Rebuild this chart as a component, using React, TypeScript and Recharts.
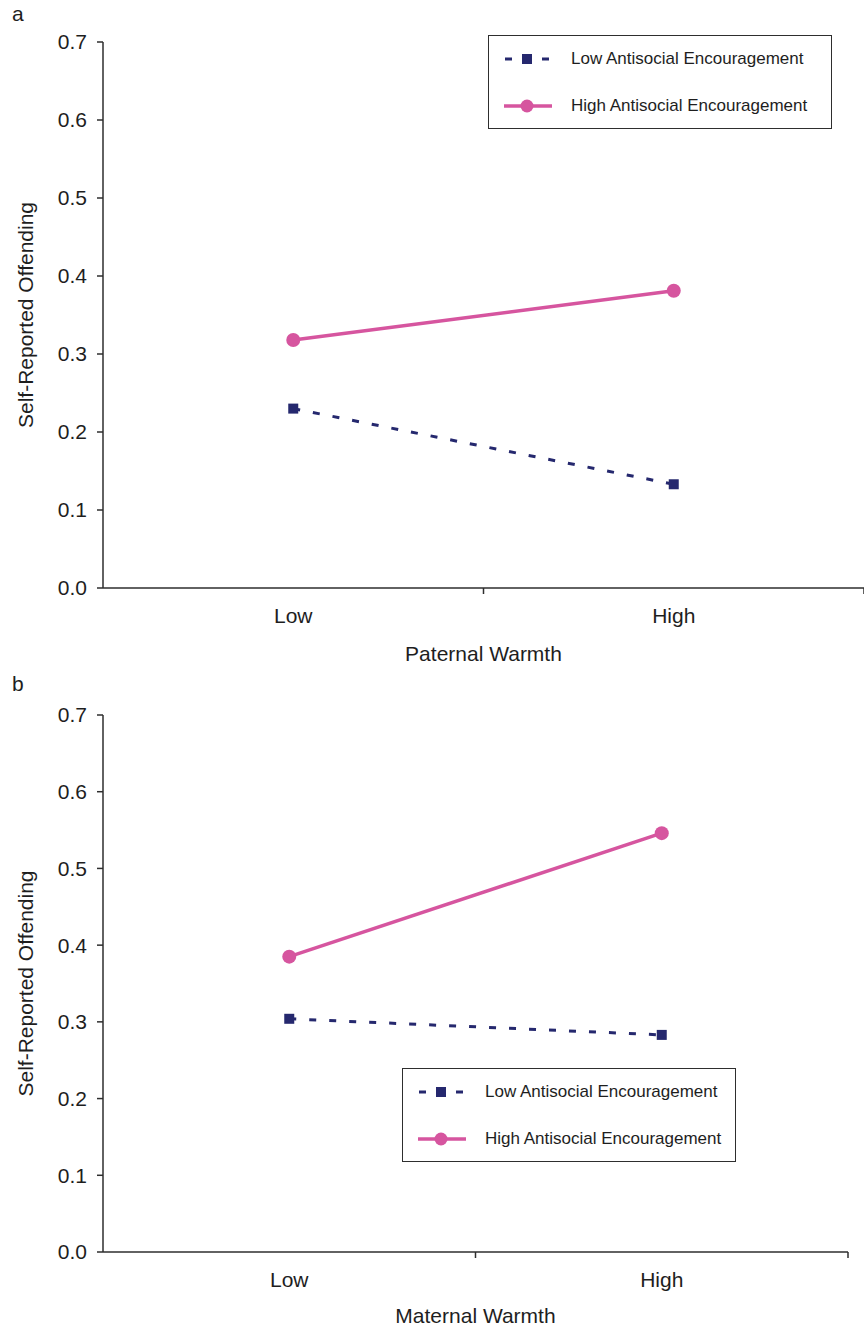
import { LineChart, Line, XAxis, YAxis, Legend } from "recharts"

const CATEGORIES = ["Low", "High"]
const SERIES_NAMES = ["Low Antisocial Encouragement", "High Antisocial Encouragement"]
const Y_TICKS = [0, 0.1, 0.2, 0.3, 0.4, 0.5, 0.6, 0.7]
// half-steps carry the category labels, whole steps the band-edge ticks
const X_TICKS = [0.5, 1, 1.5, 2]

const PATERNAL_LOW = [0.23, 0.133]
const PATERNAL_HIGH = [0.318, 0.381]
const MATERNAL_LOW = [0.304, 0.283]
const MATERNAL_HIGH = [0.385, 0.546]

const NAVY = "#25286e"
const PINK = "#d6559f"
const AXIS = "#2e2e2e"
const TEXT = "#1e1e1e"
const FONT = '"Liberation Sans", Arial, Helvetica, sans-serif'

function buildRows(low: number[], high: number[]) {
  return CATEGORIES.map((cat, i) => ({ x: i + 0.5, cat, low: low[i], high: high[i] }))
}

function CategoryTick(props: any) {
  const { x, y, payload } = props
  const v = payload.value
  if (Number.isInteger(v)) {
    return <line x1={x} x2={x} y1={y} y2={y + 6} stroke={AXIS} strokeWidth={1.5} />
  }
  return (
    <text x={x} y={y + 35} textAnchor="middle" fontSize={21} fill={TEXT} fontFamily={FONT}>
      {CATEGORIES[Math.floor(v)]}
    </text>
  )
}

function SquareDot(props: any) {
  const { cx, cy, index } = props
  return <rect key={`sq-${index}`} x={cx - 5} y={cy - 5} width={10} height={10} fill={NAVY} />
}

function LegendBox({ width }: { width: number }) {
  const row = (top: number, icon: any, label: string) => (
    <div style={{ position: "absolute", left: 0, top: top - 12, height: 24, width: "100%" }}>
      <svg width={52} height={24} style={{ position: "absolute", left: 13, top: 0 }}>
        {icon}
      </svg>
      <span style={{ position: "absolute", left: 82, top: 0, lineHeight: "24px", whiteSpace: "nowrap" }}>{label}</span>
    </div>
  )
  return (
    <div
      style={{
        position: "relative",
        width,
        height: 94,
        border: `1.5px solid ${AXIS}`,
        boxSizing: "border-box",
        background: "#fff",
        fontFamily: FONT,
        fontSize: 17,
        color: TEXT,
      }}
    >
      {row(
        23,
        <g fill={NAVY}>
          <rect x={3} y={10.5} width={7} height={3} />
          <rect x={20} y={7} width={10} height={10} />
          <rect x={40} y={10.5} width={7} height={3} />
        </g>,
        SERIES_NAMES[0]
      )}
      {row(
        70,
        <g>
          <line x1={2} x2={50} y1={12} y2={12} stroke={PINK} strokeWidth={3.5} />
          <circle cx={25} cy={12} r={6.5} fill={PINK} />
        </g>,
        SERIES_NAMES[1]
      )}
    </div>
  )
}

function Panel({
  rows,
  xLabel,
  marginTop,
  marginRight,
  axisHeight,
  labelOffset,
  legendPos,
}: {
  rows: any[]
  xLabel: string
  marginTop: number
  marginRight: number
  axisHeight: number
  labelOffset: number
  legendPos: { top: number; left: number; width: number }
}) {
  return (
    <LineChart width={864} height={665} data={rows} margin={{ top: marginTop, right: marginRight, left: 0, bottom: 0 }}>
      <XAxis
        dataKey="x"
        type="number"
        domain={[0, 2]}
        ticks={X_TICKS}
        interval={0}
        tickSize={0}
        tickMargin={0}
        tickLine={false}
        tick={<CategoryTick />}
        height={axisHeight}
        axisLine={{ stroke: AXIS, strokeWidth: 1.5 }}
        label={{
          value: xLabel,
          position: "insideBottom",
          offset: labelOffset,
          style: { fontSize: 21, fill: TEXT, fontFamily: FONT },
        }}
      />
      <YAxis
        width={103}
        domain={[0, 0.7]}
        ticks={Y_TICKS}
        interval={0}
        tickSize={6}
        tickMargin={10}
        tickFormatter={(v: number) => v.toFixed(1)}
        tick={{ fontSize: 21, fill: TEXT, fontFamily: FONT }}
        tickLine={{ stroke: AXIS, strokeWidth: 1.5 }}
        axisLine={{ stroke: AXIS, strokeWidth: 1.5 }}
        label={{
          value: "Self-Reported Offending",
          angle: -90,
          position: "insideLeft",
          offset: 26,
          style: { textAnchor: "middle", fontSize: 21, fill: TEXT, fontFamily: FONT },
        }}
      />
      <Legend
        layout="horizontal"
        verticalAlign="middle"
        content={() => <LegendBox width={legendPos.width} />}
        wrapperStyle={{ position: "absolute", top: legendPos.top, left: legendPos.left, width: legendPos.width }}
      />
      <Line
        dataKey="low"
        name={SERIES_NAMES[0]}
        stroke={NAVY}
        strokeWidth={3}
        strokeDasharray="7 13"
        dot={SquareDot}
        activeDot={false}
        isAnimationActive={false}
      />
      <Line
        dataKey="high"
        name={SERIES_NAMES[1]}
        stroke={PINK}
        strokeWidth={3.5}
        dot={{ r: 7, fill: PINK, stroke: "none" }}
        activeDot={false}
        isAnimationActive={false}
      />
    </LineChart>
  )
}

export default function App() {
  const panelLabel = { position: "absolute" as const, left: 12, fontSize: 21, fontFamily: FONT, color: TEXT }
  return (
    <div style={{ position: "absolute", top: 0, left: 0, width: 864, height: 1330, background: "#fff" }}>
      <div style={{ ...panelLabel, top: 2 }}>a</div>
      <div style={{ position: "absolute", top: 0, left: 0 }}>
        <Panel
          rows={buildRows(PATERNAL_LOW, PATERNAL_HIGH)}
          xLabel="Paternal Warmth"
          marginTop={42}
          marginRight={0}
          axisHeight={77}
          labelOffset={4}
          legendPos={{ top: 35, left: 488, width: 344 }}
        />
      </div>
      <div style={{ ...panelLabel, top: 672 }}>b</div>
      <div style={{ position: "absolute", top: 665, left: 0 }}>
        <Panel
          rows={buildRows(MATERNAL_LOW, MATERNAL_HIGH)}
          xLabel="Maternal Warmth"
          marginTop={50}
          marginRight={16}
          axisHeight={78}
          labelOffset={7}
          legendPos={{ top: 403, left: 402, width: 334 }}
        />
      </div>
    </div>
  )
}
